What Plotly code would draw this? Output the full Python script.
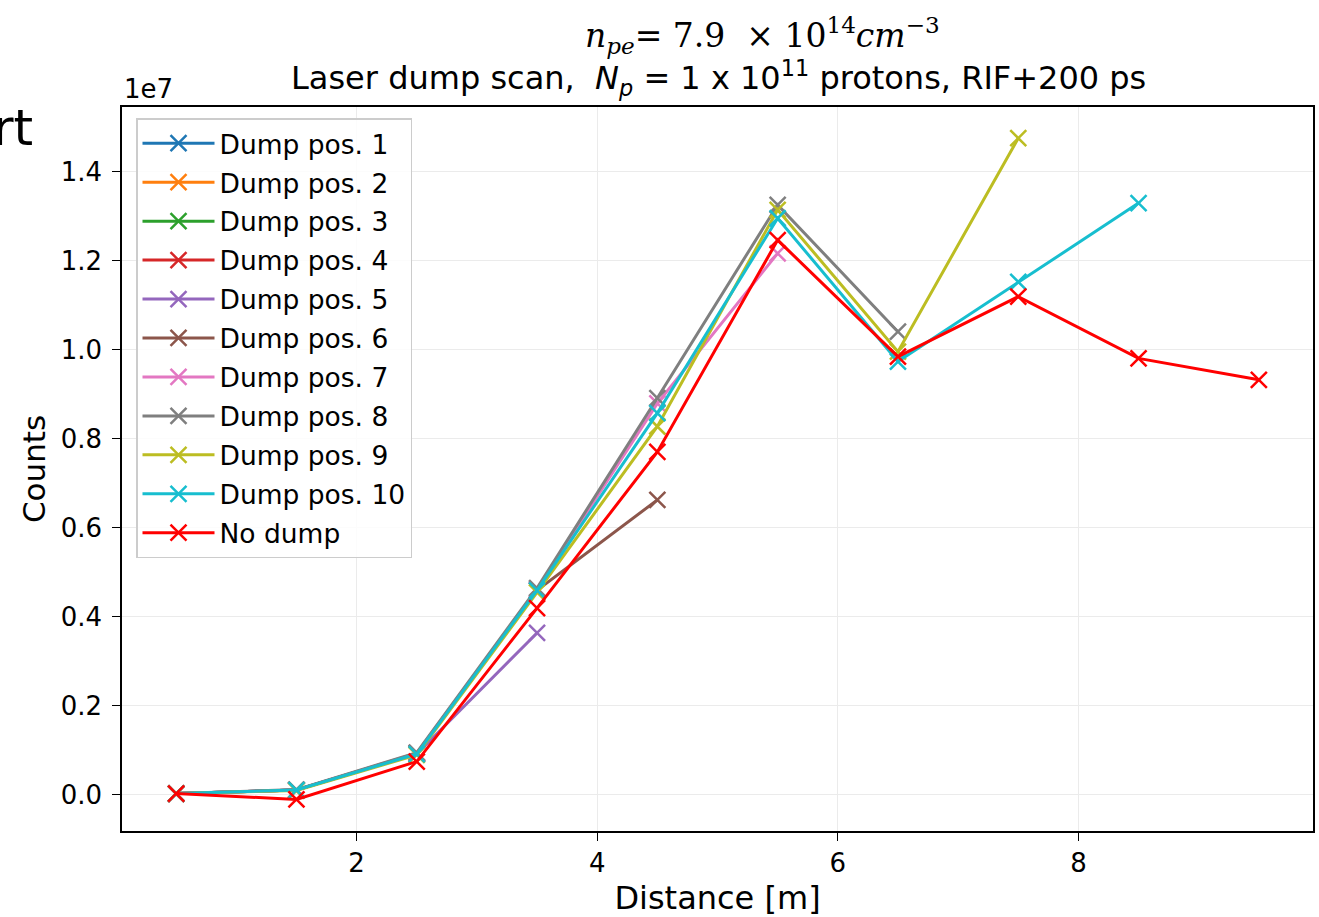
import plotly.graph_objects as go

distance = [0.5, 1.5, 2.5, 3.5, 4.5, 5.5, 6.5, 7.5, 8.5, 9.5]

series_names = ["Dump pos. 1", "Dump pos. 2", "Dump pos. 3", "Dump pos. 4", "Dump pos. 5",
                "Dump pos. 6", "Dump pos. 7", "Dump pos. 8", "Dump pos. 9", "Dump pos. 10",
                "No dump"]

# counts in units of 1e7
dump1 = [0.003]
dump2 = [0.003]
dump3 = [0.003, 0.011]
dump4 = [0.003, 0.011, 0.093]
dump5 = [0.003, 0.011, 0.092, 0.364]
dump6 = [0.003, 0.011, 0.093, 0.460, 0.663]
dump7 = [0.003, 0.011, 0.094, 0.462, 0.880, 1.217]
dump8 = [0.003, 0.012, 0.095, 0.465, 0.892, 1.326, 1.041]
dump9 = [0.003, 0.010, 0.090, 0.455, 0.828, 1.315, 0.996, 1.476]
dump10 = [0.003, 0.011, 0.092, 0.460, 0.858, 1.296, 0.974, 1.153, 1.330]
no_dump = [0.003, -0.010, 0.075, 0.420, 0.771, 1.247, 0.985, 1.120, 0.981, 0.933]

series_values = [dump1, dump2, dump3, dump4, dump5, dump6, dump7, dump8, dump9, dump10, no_dump]
colors = ["#1f77b4", "#ff7f0e", "#2ca02c", "#d62728", "#9467bd", "#8c564b",
          "#e377c2", "#7f7f7f", "#bcbd22", "#17becf", "#ff0000"]

y_ticks = [0.0, 0.2, 0.4, 0.6, 0.8, 1.0, 1.2, 1.4]
x_ticks = [2, 4, 6, 8]

fig = go.Figure()
for i, (name, vals, col) in enumerate(zip(series_names, series_values, colors)):
    fig.add_trace(go.Scatter(
        x=distance[:len(vals)], y=vals, name=name, mode="lines+markers",
        legendgroup=f"g{i}",
        line=dict(color=col, width=3),
        marker=dict(symbol="x-thin", size=16, color=col, line=dict(color=col, width=2.5)),
    ))

L, R, T, B = 122, 6, 107, 86
W, H = 1319, 917
pw = W - L - R
ph = H - T - B

def px(xp):
    return (xp - L) / pw

def py(yp):
    return (H - B - yp) / ph

fig.update_layout(
    width=W, height=H,
    margin=dict(l=L, r=R, t=T, b=B, autoexpand=False),
    paper_bgcolor="white", plot_bgcolor="white",
    font=dict(family="DejaVu Sans", size=26, color="black"),
    showlegend=True,
    legend=dict(
        x=px(136), y=py(118), xanchor="left", yanchor="top",
        bgcolor="rgba(255,255,255,0.85)", bordercolor="#cccccc", borderwidth=1.5,
        font=dict(size=26.5, family="DejaVu Sans"),
        tracegroupgap=1.5, itemwidth=72,
    ),
    xaxis=dict(
        range=[0.05, 9.95], tickvals=x_ticks, ticktext=[str(v) for v in x_ticks],
        showline=True, linecolor="black", linewidth=1.5, mirror=True,
        ticks="outside", ticklen=8, tickwidth=1.2, tickcolor="black",
        showgrid=True, gridcolor="#ebebeb", gridwidth=1, zeroline=False,
        title=dict(text="Distance [m]", font=dict(size=32), standoff=12),
        tickfont=dict(size=26),
    ),
    yaxis=dict(
        range=[-0.081, 1.546], tickvals=y_ticks, ticktext=[f"{v:.1f}" for v in y_ticks],
        showline=True, linecolor="black", linewidth=1.5, mirror=True,
        ticks="outside", ticklen=8, tickwidth=1.2, tickcolor="black",
        ticklabelstandoff=5,
        showgrid=True, gridcolor="#ebebeb", gridwidth=1, zeroline=False,
        title=dict(text="Counts", font=dict(size=31), standoff=6),
        tickfont=dict(size=26),
    ),
    annotations=[
        dict(text="1e7", xref="paper", yref="paper", x=0, y=py(89), xanchor="left",
             yanchor="middle", showarrow=False, font=dict(size=26)),
        dict(text="<i>n</i><sub><i>pe</i></sub>= 7.9  × 10<sup>14</sup><i>cm</i><sup>−3</sup>",
             xref="paper", yref="paper", x=px(762), y=py(35), xanchor="center",
             yanchor="middle", showarrow=False,
             font=dict(size=33, family="DejaVu Serif")),
        dict(text="Laser dump scan,  <i>N</i><sub><i>p</i></sub> = 1 x 10<sup>11</sup> protons, RIF+200 ps",
             xref="paper", yref="paper", x=px(718), y=py(78), xanchor="center",
             yanchor="middle", showarrow=False, font=dict(size=32)),
        dict(text="rt", xref="paper", yref="paper", x=px(-9), y=py(128), xanchor="left",
             yanchor="middle", showarrow=False, font=dict(size=50)),
    ],
)

fig.write_html("out.html")
